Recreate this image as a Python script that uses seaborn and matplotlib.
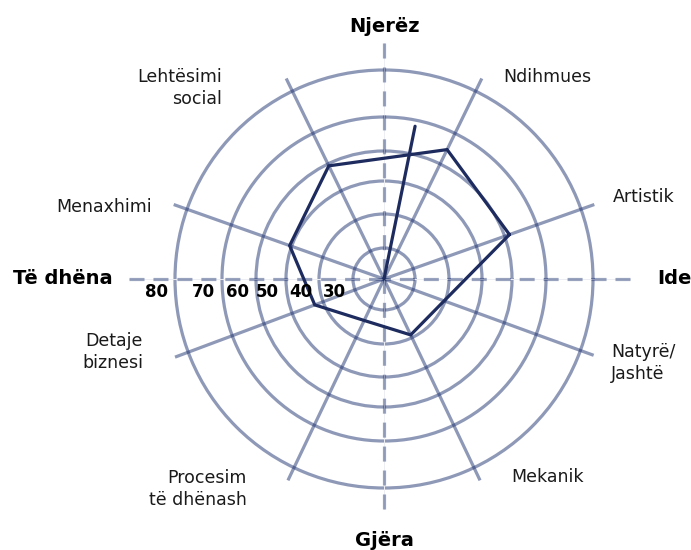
import numpy as np
import pandas as pd
import seaborn as sns
import matplotlib
matplotlib.use('Agg')
import matplotlib.pyplot as plt

# categories, counter-clockwise starting on the right
categories = ['Artistik', 'Ndihmues', 'Lehtësimi\nsocial', 'Menaxhimi',
              'Detaje\nbiznesi', 'Procesim\ntë dhënash', 'Mekanik', 'Natyrë/\nJashtë']
scores = [61.5, 64.7, 59.3, 50.7, 42.7, 34.4, 39.1, 39.7]

# stray stroke from the centre in the source figure
spike_deg = 78.5
spike_score = 68.2

ring_values = [30, 40, 50, 60, 70, 80]
ring_labels = ['30', '40', '50', '60', '70', '80']

axis_names = ['Ide', 'Njerëz', 'Të dhëna', 'Gjëra']

# ---- layout / style ----
spoke_deg = [19.5, 64, 116, 160.5, 200.5, 244.5, 295.5, 340]
axis_deg = [0, 90, 180, 270]
axis_end = [87.9, 85.7, 89.8, 84.5]
# rings are not evenly spaced in the original, so the radial scale is piecewise
scale_vals = [10, 20, 30, 40, 50, 60, 70, 80, 90, 100]
scale_px = [-31, 0, 31, 65, 98, 128, 162, 209, 256, 303]

navy = '#1f3370'
line_col = '#1d2b5e'
txt_col = '#1a1a1a'

W, H = 691, 550
cx, cy, R = 384, 279, 256


def fwd(v):
    return np.interp(v, scale_vals, scale_px)


def inv(r):
    return np.interp(r, scale_px, scale_vals)


def px(x, y):
    return x / W, 1 - y / H


sns.set_style('white')
plt.rcParams['font.family'] = ['DejaVu Sans']

fig = plt.figure(figsize=(W / 100, H / 100), dpi=100)
ax = fig.add_axes([(cx - R) / W, (H - cy - R) / H, 2 * R / W, 2 * R / H], projection='polar')
ax.set_rscale('function', functions=(fwd, inv))
ax.set_rlim(20, 90)
ax.patch.set_alpha(0)
ax.spines['polar'].set_visible(False)
ax.set_xticks([])
ax.set_yticks(ring_values)
ax.set_yticklabels([])
ax.xaxis.grid(False)
ax.yaxis.grid(True, color=navy, alpha=0.5, lw=2.3)

# solid spokes
for d in spoke_deg:
    th = np.deg2rad(d)
    ax.plot([th, th], [20, 83], color=navy, alpha=0.5, lw=2.3,
            solid_capstyle='butt', clip_on=False)

# dashed main axes with a faint hairline behind
for d, e in zip(axis_deg, axis_end):
    th = np.deg2rad(d)
    ax.plot([th, th], [e, 20], color='#eceef3', lw=0.7, clip_on=False)
    ax.plot([th, th], [e, 20], color=navy, alpha=0.45, lw=2.3,
            dashes=(4.7, 2.8), dash_capstyle='butt', clip_on=False)

# profile polygon
df = pd.DataFrame({'theta': np.deg2rad(spoke_deg + spoke_deg[:1]),
                   'score': scores + scores[:1]})
sns.lineplot(data=df, x='theta', y='score', sort=False, estimator=None,
             ax=ax, color=line_col, lw=2.3)
ax.lines[-1].set_solid_joinstyle('miter')
th = np.deg2rad(spike_deg)
ax.plot([th, th], [20, spike_score], color=line_col, lw=2.3)
ax.set_xlabel('')
ax.set_ylabel('')

# ring labels along the left axis
for v, lab in zip(ring_values, ring_labels):
    ax.annotate(lab, xy=(np.pi, v), xytext=(-5, -9.5), textcoords='offset points',
                ha='right', va='center', fontsize=12, fontweight='bold', color='black',
                annotation_clip=False)

# category labels
cat_pos = [(613, 197, 'left'), (503, 77, 'left'), (222, 88, 'right'), (152, 207, 'right'),
           (143, 352, 'right'), (247, 489, 'right'), (511, 477, 'left'), (611, 363, 'left')]
for lab, (x, y, ha) in zip(categories, cat_pos):
    fig.text(*px(x, y), lab, ha=ha, va='center', fontsize=12.5, color=txt_col,
             linespacing=1.3, multialignment=ha)

# bold axis names
name_pos = [(657, 279, 'left'), (384, 26, 'center'), (13, 279, 'left'), (384, 541, 'center')]
for lab, (x, y, ha) in zip(axis_names, name_pos):
    fig.text(*px(x, y), lab, ha=ha, va='center', fontsize=14, fontweight='bold',
             color='black')

fig.savefig('out.png', dpi=100)
